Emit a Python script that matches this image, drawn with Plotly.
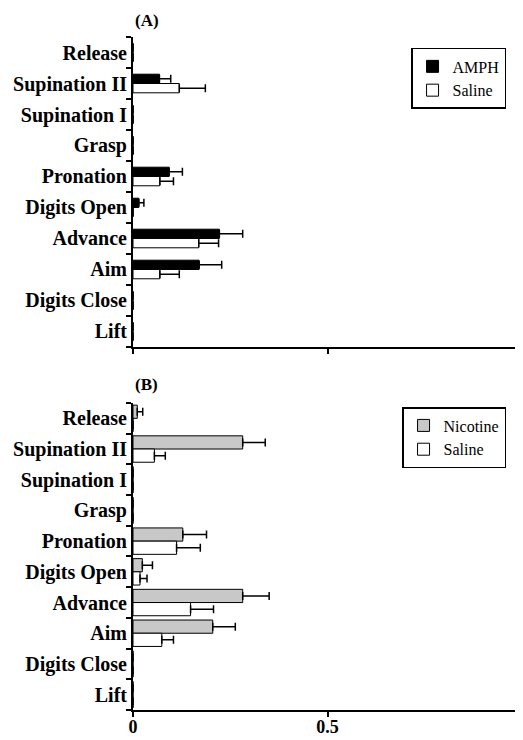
import plotly.graph_objects as go
from plotly.subplots import make_subplots

# categories, top to bottom
stages = ["Release", "Supination II", "Supination I", "Grasp", "Pronation",
          "Digits Open", "Advance", "Aim", "Digits Close", "Lift"]

# (A) amphetamine vs saline
amph = [0, 0.068, 0, 0, 0.093, 0.015, 0.222, 0.170, 0, 0]
amph_err = [0, 0.029, 0, 0, 0.034, 0.013, 0.060, 0.058, 0, 0]
sal_a = [0, 0.119, 0, 0, 0.069, 0, 0.169, 0.069, 0, 0]
sal_a_err = [0, 0.067, 0, 0, 0.035, 0, 0.051, 0.050, 0, 0]

# (B) nicotine vs saline
nic = [0.011, 0.282, 0, 0, 0.128, 0.024, 0.282, 0.205, 0, 0]
nic_err = [0.014, 0.058, 0, 0, 0.061, 0.026, 0.068, 0.058, 0, 0]
sal_b = [0, 0.055, 0, 0, 0.112, 0.018, 0.148, 0.074, 0, 0]
sal_b_err = [0, 0.028, 0, 0, 0.061, 0.018, 0.059, 0.030, 0, 0]

xticks = [0, 0.5, 1]
xticktext = ["0", "0.5", "1"]

FONT = "Liberation Serif"

fig = make_subplots(rows=2, cols=1, vertical_spacing=0.0)


def add_bar(vals, errs, name, color, row, width, offset, legend):
    zeros = [0] * len(errs)
    fig.add_trace(go.Bar(
        y=stages, x=vals, orientation="h", name=name,
        width=width, offset=offset,
        marker=dict(color=color, line=dict(color="black", width=1)),
        error_x=dict(type="data", symmetric=False, array=errs, arrayminus=zeros,
                     color="black", thickness=1.5, width=4),
        legend=legend,
    ), row=row, col=1)


add_bar(amph, amph_err, "AMPH", "black", 1, 0.3, -0.3, "legend")
add_bar(sal_a, sal_a_err, "Saline", "white", 1, 0.3, 0.0, "legend")
add_bar(nic, nic_err, "Nicotine", "#c8c8c8", 2, 0.43, -0.43, "legend2")
add_bar(sal_b, sal_b_err, "Saline", "white", 2, 0.43, 0.0, "legend2")

axis_common = dict(showline=True, linecolor="black", linewidth=2, ticks="outside",
                   tickcolor="black", tickwidth=2, showgrid=False,
                   zeroline=False, mirror=False, automargin=False)

fig.update_xaxes(range=[0, 1], tickvals=xticks, ticklen=5, ticklabelstandoff=-6,
                 ticktext=["<b>%s</b>" % t for t in xticktext],
                 tickfont=dict(family=FONT, size=18, color="black"),
                 **axis_common)
fig.update_xaxes(showticklabels=False, row=1, col=1)
fig.update_xaxes(domain=[0, 1])
fig.update_yaxes(type="category", categoryorder="array", categoryarray=stages,
                 tickvals=stages, ticktext=["<b>%s</b>" % s for s in stages],
                 autorange="reversed", tickson="boundaries", ticklen=5,
                 tickfont=dict(family=FONT, size=20, color="black"),
                 **axis_common)
fig.update_yaxes(domain=[0.5394, 1], row=1, col=1)
fig.update_yaxes(domain=[0, 0.4562], row=2, col=1)

legend_style = dict(bordercolor="black", borderwidth=1.5, bgcolor="white",
                    font=dict(family=FONT, size=16, color="black"),
                    xanchor="right", yanchor="top", itemwidth=30)

# page body has an 8px margin, so the figure is 8px smaller each way
fig.update_layout(
    width=515, height=732,
    margin=dict(l=125, r=1, t=29, b=30),
    paper_bgcolor="white", plot_bgcolor="white",
    barmode="overlay",
    legend=dict(x=0.959, y=0.9837, **legend_style),
    legend2=dict(x=0.959, y=0.4502, **legend_style),
    annotations=[
        dict(text="<b>(A)</b>", xref="paper", yref="paper", x=0.0, y=1.0,
             xanchor="left", yanchor="bottom", showarrow=False, yshift=5,
             font=dict(family=FONT, size=17, color="black")),
        dict(text="<b>(B)</b>", xref="paper", yref="paper", x=0.0, y=0.4562,
             xanchor="left", yanchor="bottom", showarrow=False, yshift=7,
             font=dict(family=FONT, size=17, color="black")),
    ],
)

fig.write_html("out.html")
